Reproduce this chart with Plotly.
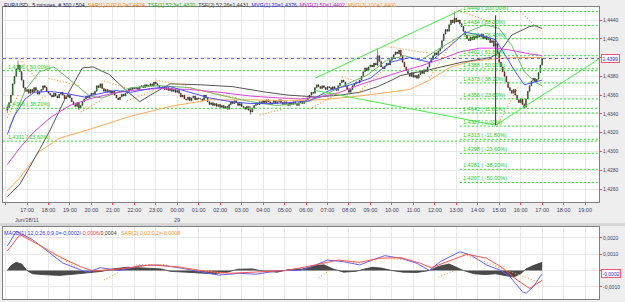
import plotly.graph_objects as go
import pandas as pd

W, H = 625, 302

def T(s):
    d, hm = s.split()
    return f"2011-06-{d} {hm}"

# ---------------- price data (5-minute closes, one row per hour) -------------
first_open = 1.4344
closes_by_hour = [
    [1.4347, 1.4352, 1.4360, 1.4372, 1.4380, 1.4388, 1.4392, 1.4385, 1.4376, 1.4368, 1.4364, 1.4366],
    [1.4362, 1.4366, 1.4363, 1.4368, 1.4365, 1.4361, 1.4364, 1.4366, 1.4370, 1.4368, 1.4364, 1.4362],
    [1.4360, 1.4358, 1.4362, 1.4359, 1.4357, 1.4361, 1.4363, 1.4360, 1.4356, 1.4358, 1.4360, 1.4357],
    [1.4353, 1.4350, 1.4348, 1.4352, 1.4346, 1.4349, 1.4353, 1.4356, 1.4359, 1.4357, 1.4360, 1.4362],
    [1.4361, 1.4364, 1.4370, 1.4368, 1.4372, 1.4367, 1.4364, 1.4366, 1.4363, 1.4365, 1.4362, 1.4364],
    [1.4360, 1.4357, 1.4355, 1.4358, 1.4361, 1.4359, 1.4362, 1.4364, 1.4367, 1.4366, 1.4368, 1.4367],
    [1.4368, 1.4366, 1.4369, 1.4370, 1.4368, 1.4371, 1.4369, 1.4370, 1.4372, 1.4370, 1.4374, 1.4372],
    [1.4370, 1.4368, 1.4367, 1.4369, 1.4366, 1.4368, 1.4365, 1.4367, 1.4364, 1.4366, 1.4363, 1.4365],
    [1.4362, 1.4358, 1.4360, 1.4356, 1.4355, 1.4358, 1.4354, 1.4357, 1.4359, 1.4355, 1.4357, 1.4356],
    [1.4356, 1.4354, 1.4360, 1.4357, 1.4353, 1.4350, 1.4352, 1.4349, 1.4351, 1.4348, 1.4350, 1.4347],
    [1.4349, 1.4346, 1.4348, 1.4345, 1.4350, 1.4353, 1.4351, 1.4354, 1.4352, 1.4349, 1.4351, 1.4348],
    [1.4347, 1.4345, 1.4348, 1.4344, 1.4342, 1.4346, 1.4349, 1.4352, 1.4350, 1.4353, 1.4351, 1.4354],
    [1.4352, 1.4355, 1.4353, 1.4350, 1.4352, 1.4354, 1.4351, 1.4353, 1.4355, 1.4352, 1.4350, 1.4353],
    [1.4351, 1.4349, 1.4352, 1.4350, 1.4353, 1.4351, 1.4349, 1.4352, 1.4354, 1.4351, 1.4353, 1.4355],
    [1.4357, 1.4360, 1.4363, 1.4362, 1.4368, 1.4371, 1.4369, 1.4367, 1.4370, 1.4368, 1.4366, 1.4369],
    [1.4368, 1.4366, 1.4369, 1.4367, 1.4365, 1.4370, 1.4373, 1.4376, 1.4374, 1.4370, 1.4366, 1.4363],
    [1.4366, 1.4370, 1.4372, 1.4374, 1.4373, 1.4376, 1.4380, 1.4385, 1.4389, 1.4386, 1.4390, 1.4392],
    [1.4390, 1.4394, 1.4392, 1.4402, 1.4396, 1.4390, 1.4388, 1.4391, 1.4394, 1.4392, 1.4397, 1.4400],
    [1.4403, 1.4406, 1.4404, 1.4408, 1.4402, 1.4395, 1.4390, 1.4386, 1.4383, 1.4380, 1.4384, 1.4379],
    [1.4381, 1.4378, 1.4382, 1.4386, 1.4383, 1.4387, 1.4385, 1.4390, 1.4395, 1.4398, 1.4402, 1.4405],
    [1.4403, 1.4407, 1.4410, 1.4418, 1.4425, 1.4430, 1.4428, 1.4435, 1.4440, 1.4437, 1.4442, 1.4438],
    [1.4440, 1.4436, 1.4433, 1.4428, 1.4424, 1.4420, 1.4418, 1.4422, 1.4419, 1.4423, 1.4421, 1.4424],
    [1.4422, 1.4425, 1.4420, 1.4423, 1.4419, 1.4421, 1.4416, 1.4418, 1.4412, 1.4415, 1.4405, 1.4395],
    [1.4390, 1.4385, 1.4380, 1.4374, 1.4368, 1.4365, 1.4362, 1.4366, 1.4360, 1.4355, 1.4352, 1.4356],
    [1.4350, 1.4347, 1.4356, 1.4364, 1.4370, 1.4375, 1.4378, 1.4374, 1.4377, 1.4384, 1.4392, 1.4399],
]
# read-off extreme wicks: bar index -> (high, low)
wick_overrides = {0: (1.4350, 1.4341), 6: (1.4397, 1.4386), 40: (1.4350, 1.4344),
                  136: (1.4348, 1.4339), 207: (1.4410, 1.4391), 250: (1.4449, 1.4436),
                  289: (1.4352, 1.4345)}

# ---------------- indicators ------------------------------------------------
mvg1_t = ["28 16:05","28 16:25","28 16:55","28 17:20","28 18:05","28 19:00","28 19:40","28 20:25","28 21:05","28 21:50","28 22:45","28 23:40","29 00:35","29 01:30","29 02:30","29 03:25","29 04:20","29 05:15","29 06:10","29 07:05","29 08:05","29 09:00","29 09:55","29 10:50","29 11:45","29 12:45","29 13:25","29 14:05","29 14:50","29 15:15","29 15:45","29 16:10","29 16:40","29 17:00"]
mvg1_v = [1.4318,1.4338,1.4356,1.4363,1.4364,1.4361,1.4358,1.4362,1.4365,1.4363,1.4367,1.4369,1.4363,1.4357,1.4353,1.4351,1.4351,1.4352,1.4354,1.4365,1.4371,1.4378,1.4395,1.4400,1.4395,1.4413,1.4427,1.4424,1.4419,1.4403,1.4385,1.4371,1.4374,1.4376]

mvg2_t = ["28 16:05","28 16:40","28 17:20","28 18:05","28 19:00","28 19:55","28 20:50","28 21:50","28 23:10","29 00:35","29 02:00","29 03:25","29 04:45","29 05:45","29 06:40","29 07:35","29 08:30","29 09:25","29 10:25","29 11:20","29 12:15","29 13:10","29 14:05","29 14:50","29 15:30","29 16:25","29 17:00"]
mvg2_v = [1.4286,1.4304,1.4321,1.4336,1.4349,1.4356,1.4361,1.4365,1.4367,1.4366,1.4363,1.4359,1.4357,1.4356,1.4358,1.4363,1.4371,1.4378,1.4385,1.4391,1.4398,1.4406,1.4410,1.4410,1.4408,1.4404,1.4402]

mvg3_t = ["28 16:05","28 16:40","28 17:35","28 18:30","28 19:50","28 21:45","28 23:40","29 01:30","29 03:25","29 05:15","29 06:40","29 08:05","29 09:30","29 10:50","29 11:45","29 12:45","29 13:40","29 15:00","29 16:00","29 17:00"]
mvg3_v = [1.4258,1.4272,1.4300,1.4314,1.4323,1.4337,1.4348,1.4355,1.4355,1.4354,1.4355,1.4358,1.4362,1.4366,1.4376,1.4390,1.4396,1.4399,1.4400,1.4400]

tsf2_t = ["28 16:05","28 16:40","28 17:35","28 18:05","28 18:45","28 19:35","28 20:05","28 20:50","28 21:40","28 22:15","28 22:45","28 23:40","29 01:05","29 02:35","29 04:10","29 05:10","29 06:30","29 07:35","29 08:30","29 09:20","29 10:00","29 10:25","29 11:45","29 13:15","29 14:35","29 15:00","29 15:35","29 16:25","29 16:40","29 17:00"]
tsf2_v = [1.4252,1.4265,1.4302,1.4323,1.4355,1.4389,1.4390,1.4382,1.4364,1.4353,1.4360,1.4372,1.4371,1.4369,1.4363,1.4360,1.4358,1.4360,1.4363,1.4369,1.4376,1.4381,1.4387,1.4395,1.4400,1.4405,1.4424,1.4433,1.4434,1.4431]

tsf1_t = ["28 16:10","28 16:25","28 16:55","28 17:35","28 18:15","28 18:45","28 19:25","28 19:55","28 20:30","28 21:05","28 21:50","28 23:10","29 00:35","29 02:00","29 03:25","29 04:35","29 05:45","29 06:40","29 07:50","29 08:50","29 09:45","29 10:35","29 11:20","29 12:15","29 13:25","29 14:20","29 15:00","29 15:35","29 16:10","29 16:40","29 17:00"]
tsf1_v = [1.4325,1.4339,1.4365,1.4385,1.4390,1.4381,1.4369,1.4359,1.4357,1.4362,1.4368,1.4370,1.4368,1.4360,1.4353,1.4349,1.4351,1.4358,1.4371,1.4381,1.4397,1.4402,1.4397,1.4410,1.4426,1.4435,1.4431,1.4413,1.4385,1.4374,1.4370]

# parabolic SAR(1) runs: start time, start value, end time, end value
sar_t0 = ["28 16:05","28 16:40","28 17:35","28 18:00","28 19:30","28 20:35","28 21:40","28 23:00","29 00:30","29 03:50","29 05:00","29 06:10","29 07:40","29 08:25","29 09:40","29 11:45","29 13:05","29 14:55","29 16:00"]
sar_v0 = [1.4336,1.4398,1.4355,1.4378,1.4342,1.4375,1.4354,1.4376,1.4368,1.4339,1.4357,1.4345,1.4379,1.4362,1.4412,1.4378,1.4450,1.4328,1.4449]
sar_t1 = ["28 16:35","28 17:30","28 17:55","28 19:25","28 20:30","28 21:35","28 22:55","29 00:25","29 02:45","29 04:55","29 06:05","29 07:35","29 08:20","29 09:35","29 11:40","29 12:55","29 14:50","29 15:55","29 17:00"]
sar_v1 = [1.4360,1.4376,1.4360,1.4370,1.4355,1.4368,1.4365,1.4370,1.4357,1.4345,1.4355,1.4363,1.4375,1.4386,1.4405,1.4420,1.4436,1.4370,1.4426]

# Fibonacci retracement (right) and older one (left)
fib_prices = [1.4449, 1.4434, 1.4420, 1.4402, 1.4388, 1.4373, 1.4356, 1.4341, 1.4327, 1.4313, 1.4298, 1.4281, 1.4267]
fib_pcts = ["100,00%", "88,20%", "76,40%", "61,80%", "50,00%", "38,20%", "23,60%", "11,80%", "0,00%", "-11,80%", "-23,60%", "-38,20%", "-50,00%"]
fib_start = "29 13:10"
fibL_prices = [1.4386, 1.4346, 1.4311]
fibL_pcts = ["50,00%", "38,20%", "23,60%"]

trend_t0 = ["29 06:25", "29 06:25", "29 14:50"]
trend_v0 = [1.4378, 1.4365, 1.4328]
trend_t1 = ["29 13:15", "29 14:50", "29 19:39"]
trend_v1 = [1.4451, 1.4328, 1.43985]
vline_t = "29 14:50"
vline_v = [1.4445, 1.4328]
last_price = 1.4399

# ---------------- MACD panel -----------------------------------------------
macd_t = ["28 16:05","28 16:30","28 17:15","28 18:00","28 18:40","28 19:30","28 19:50","28 20:25","28 21:20","28 22:15","28 23:10","29 00:05","29 01:00","29 01:55","29 02:55","29 03:40","29 04:45","29 05:40","29 06:15","29 07:00","29 07:45","29 08:30","29 09:05","29 09:40","29 10:25","29 11:10","29 11:45","29 12:15","29 13:10","29 13:40","29 14:25","29 15:05","29 15:30","29 16:05","29 16:15","29 16:35","29 17:00"]
macd_v = [0.0015,0.0024,0.0019,0.00115,0.00046,0.00003,-0.0001,0.00017,0.0,0.0003,0.00034,0.00017,-0.00007,-0.00028,-0.00017,-0.00023,0.0,0.0,0.00023,0.00064,0.00054,0.00034,0.00064,0.00091,0.00075,0.00044,0.0,0.00054,0.00115,0.00095,0.00034,0.0,-0.00038,-0.0013,-0.0014,-0.0010,-0.0002]
sig_t = ["28 16:05","28 16:40","28 17:35","28 18:30","28 19:30","28 20:05","28 21:20","28 22:45","29 00:00","29 01:25","29 02:30","29 03:50","29 05:05","29 06:35","29 07:30","29 08:30","29 09:25","29 10:25","29 11:20","29 11:50","29 12:35","29 13:30","29 14:25","29 15:05","29 15:50","29 16:25","29 17:00"]
sig_v = [0.0012,0.0022,0.00156,0.00085,0.00023,-0.00003,0.0001,0.00034,0.00023,-0.00007,-0.00017,-0.00007,0.0,0.00038,0.00064,0.0005,0.00075,0.00079,0.00044,0.00017,0.00054,0.0010,0.00075,0.00023,-0.00058,-0.0011,-0.0006]
hist_t = ["28 16:05","28 16:15","28 16:30","28 16:45","28 17:00","28 17:15","28 17:45","28 18:30","28 19:15","28 20:00","28 20:30","28 21:00","28 21:40","28 22:30","28 23:15","28 23:40","29 00:30","29 01:00","29 01:40","29 02:20","29 02:50","29 03:30","29 04:00","29 04:40","29 05:10","29 05:50","29 06:30","29 06:50","29 07:15","29 07:45","29 08:20","29 08:45","29 09:05","29 09:30","29 10:00","29 10:30","29 11:10","29 11:45","29 12:10","29 12:40","29 13:00","29 13:20","29 13:50","29 14:20","29 14:50","29 15:15","29 15:40","29 16:00","29 16:15","29 16:35","29 17:00"]
hist_v = [0.0,0.0003,0.0005,0.0004,0.0,-0.0002,-0.00025,-0.0003,-0.00022,-0.0001,-0.00005,0.0001,0.0002,0.00015,0.0001,-0.00005,-0.0001,-0.00015,-0.0002,-0.0001,0.00008,0.0001,-0.00005,-0.0001,0.00005,0.0001,0.0003,0.00035,0.0001,-0.0001,-0.00005,0.0001,0.0002,0.00015,0.0,-0.0001,-0.00012,0.0,0.00025,0.0004,0.0002,0.0,-0.0002,-0.00025,-0.0002,-0.0003,-0.0004,-0.0002,0.0001,0.0003,0.0005]
sar2_t0 = ["28 16:40","28 20:35","28 22:05","28 23:55","29 06:35","29 07:30","29 09:25","29 12:10","29 13:15","29 16:05"]
sar2_v0 = [0.00228,-0.00058,0.00034,0.00023,-0.00044,0.00064,0.00075,-0.0004,0.00105,-0.00035]
sar2_t1 = ["28 19:30","28 21:20","28 23:30","29 02:10","29 07:10","29 08:30","29 10:55","29 12:55","29 16:00","29 17:00"]
sar2_v1 = [0.00003,-0.00007,0.00037,-0.00017,0.00006,0.00044,0.00064,0.0,-0.0003,-0.0008]

y_ticks = [1.4260, 1.4280, 1.4300, 1.4320, 1.4340, 1.4360, 1.4380, 1.4400, 1.4420, 1.4440]
m_ticks = [-0.0010, 0.0, 0.0010, 0.0020]

# ---------------- build ----------------------------------------------------
times = pd.date_range("2011-06-28 16:05", periods=300, freq="5min")
closes = [c for row in closes_by_hour for c in row]
opens = [first_open] + closes[:-1]
highs = [max(o, c) for o, c in zip(opens, closes)]
lows = [min(o, c) for o, c in zip(opens, closes)]
for i, (hh, ll) in wick_overrides.items():
    highs[i] = max(highs[i], hh)
    lows[i] = min(lows[i], ll)

FONT = "Liberation Sans, Arial, sans-serif"
fig = go.Figure()

def line(tl, vl, color, width=1, dash=None, xa="x", ya="y"):
    fig.add_trace(go.Scatter(x=[T(t) for t in tl], y=vl, mode="lines", xaxis=xa, yaxis=ya,
                             line=dict(color=color, width=width, dash=dash),
                             hoverinfo="skip", showlegend=False))

def segs(t0, v0, t1, v1, color, width=1, dash=None, xa="x", ya="y"):
    xs, ys = [], []
    for a, b, c, d in zip(t0, v0, t1, v1):
        xs += [T(a), T(c), None]
        ys += [b, d, None]
    fig.add_trace(go.Scatter(x=xs, y=ys, mode="lines", xaxis=xa, yaxis=ya,
                             line=dict(color=color, width=width, dash=dash),
                             hoverinfo="skip", showlegend=False))

x_left = "2011-06-28 15:52:54"
x_right = "2011-06-29 19:39"

# fib lines
fx, fy = [], []
for p in fib_prices:
    fx += [T(fib_start), x_right, None]
    fy += [p, p, None]
for p in fibL_prices:
    fx += [x_left, x_right, None]
    fy += [p, p, None]
fig.add_trace(go.Scatter(x=fx, y=fy, mode="lines", line=dict(color="#33dd33", width=1, dash="2px,2px"),
                         hoverinfo="skip", showlegend=False))

line(mvg3_t, mvg3_v, "#ffaa55", 1)
line(tsf2_t, tsf2_v, "#555555", 1)
line(tsf1_t, tsf1_v, "#66bb66", 1)
line(mvg2_t, mvg2_v, "#e040e0", 1)
line(mvg1_t, mvg1_v, "#5050ff", 1)
segs(trend_t0, trend_v0, trend_t1, trend_v1, "#44ee44", 1)
line([vline_t, vline_t], vline_v, "#303030", 1)

fig.add_trace(go.Candlestick(
    x=times, open=opens, high=highs, low=lows, close=closes,
    increasing=dict(line=dict(color="#1a1a1a", width=0.5), fillcolor="#10b010"),
    decreasing=dict(line=dict(color="#1a1a1a", width=0.5), fillcolor="#e01010"),
    whiskerwidth=0, hoverinfo="skip", showlegend=False))

segs(sar_t0, sar_v0, sar_t1, sar_v1, "#ff8c1a", 1.1, "1px,2px")

# MACD panel
fig.add_trace(go.Scatter(x=[T(t) for t in hist_t], y=hist_v, mode="lines", xaxis="x2", yaxis="y2",
                         fill="tozeroy", fillcolor="#4a4a4a", line=dict(color="#3a3a3a", width=0.8),
                         hoverinfo="skip", showlegend=False))
line(macd_t, macd_v, "#6060ff", 1, None, "x2", "y2")
line(sig_t, sig_v, "#ff5050", 1, None, "x2", "y2")
segs(sar2_t0, sar2_v0, sar2_t1, sar2_v1, "#ff9933", 1.1, "1px,2px", "x2", "y2")

def fmt(v, nd=4):
    return f"{v:.{nd}f}".replace(".", ",")

ann = []
for p, pc in zip(fib_prices, fib_pcts):
    ann.append(dict(x=T("29 13:12"), y=p, xref="x", yref="y", xanchor="left", yanchor="bottom",
                    text=f"{fmt(p)} ( {pc})", showarrow=False, yshift=-1,
                    font=dict(size=5.5, color="#22cc22", family=FONT)))
for p, pc in zip(fibL_prices, fibL_pcts):
    ann.append(dict(x=T("28 16:00"), y=p, xref="x", yref="y", xanchor="left", yanchor="bottom",
                    text=f"{fmt(p)} ( {pc})", showarrow=False, yshift=-1,
                    font=dict(size=5.5, color="#22cc22", family=FONT)))

title = ("<span style='color:#202060'>EUR/USD , 5 minutes, # 300 / 504, </span>"
         "<span style='color:#ff8000'>SAR(1) 0,02;0,2=1,4424, </span>"
         "<span style='color:#20b020'>TSF(1) 52;3=1,4370, </span>"
         "<span style='color:#404040'>TSF(2) 52;26=1,4431, </span>"
         "<span style='color:#3030ff'>MVG(1) 20=1,4376, </span>"
         "<span style='color:#d020d0'>MVG(2) 50=1,4402, </span>"
         "<span style='color:#ffa040'>MVG(3) 100=1,4400</span>")
ann.append(dict(x=2 / W, y=1 - 0.5 / H, xref="paper", yref="paper", xanchor="left", yanchor="top",
                text=title, showarrow=False, font=dict(size=5.3, family=FONT)))
mtitle = ("<span style='color:#3030ff'>MACD(1) 12,0;26,0;9,0=-0,0002/</span>"
          "<span style='color:#ff4040'>-0,0006/</span>"
          "<span style='color:#404040'>0,0004 , </span>"
          "<span style='color:#ff8c1a'>SAR(2) 0,02;0,2=-0,0008</span>")
ann.append(dict(x=2 / W, y=1 - 227.5 / H, xref="paper", yref="paper", xanchor="left", yanchor="top",
                text=mtitle, showarrow=False, font=dict(size=5.3, family=FONT)))
ann.append(dict(x=T("28 17:00"), y=1 - 219.5 / H, xref="x", yref="paper", text="Jun/28/11",
                yanchor="middle", showarrow=False, font=dict(size=5.5, color="#404060", family=FONT)))
ann.append(dict(x=T("29 00:00"), y=1 - 219.5 / H, xref="x", yref="paper", text="29",
                yanchor="middle", showarrow=False, font=dict(size=5.5, color="#404060", family=FONT)))
ann.append(dict(x=600.5 / W, y=last_price, xref="paper", yref="y", xanchor="left", text=fmt(last_price),
                showarrow=False, bgcolor="white", bordercolor="#ff5070", borderwidth=1, borderpad=0.5,
                font=dict(size=5, color="#2020c0", family=FONT)))
ann.append(dict(x=600.5 / W, y=-0.0002, xref="paper", yref="y2", xanchor="left", text="-0,0002",
                showarrow=False, bgcolor="white", bordercolor="#ff5070", borderwidth=1, borderpad=0.5,
                font=dict(size=5, color="#2020c0", family=FONT)))

shapes = [
    dict(type="line", xref="paper", yref="y", x0=3 / W, x1=599 / W, y0=last_price, y1=last_price,
         line=dict(color="#4040ff", width=0.8, dash="3px,3px")),
    dict(type="rect", xref="paper", yref="paper", x0=0, x1=1, y0=1 - 226 / H, y1=1 - 223 / H,
         fillcolor="#d6d6d6", line=dict(width=0), layer="below"),
]

xdom = [3 / W, 599 / W]
axis_common = dict(showline=True, linecolor="#808080", linewidth=1, mirror=True,
                   gridcolor="#e8e8e8", gridwidth=1, zeroline=False, fixedrange=True)
fig.update_layout(
    width=W, height=H, margin=dict(l=0, r=0, t=0, b=0),
    paper_bgcolor="#eeeeee", plot_bgcolor="white", separators=",.",
    showlegend=False, annotations=ann, shapes=shapes,
    font=dict(family=FONT, size=6, color="#404060"),
    xaxis=dict(domain=xdom, anchor="y", type="date", range=[x_left, x_right],
               tick0="2011-06-28 00:00", dtick=3600000, tickformat="%H:%M",
               ticks="outside", ticklen=2, tickcolor="#ff4040",
               tickfont=dict(size=5.5, color="#404060"), showgrid=True,
               rangeslider=dict(visible=False), **axis_common),
    yaxis=dict(domain=[1 - 202 / H, 1 - 7 / H], anchor="x", side="right",
               range=[1.424617, 1.445385], tickvals=y_ticks,
               ticktext=[fmt(v) if abs(v - 1.44) > 1e-9 else "" for v in y_ticks],
               ticks="outside", ticklen=2, tickcolor="#ff4040",
               tickfont=dict(size=5, color="#404060"), showgrid=True, **axis_common),
    xaxis2=dict(domain=xdom, anchor="y2", type="date", range=[x_left, x_right],
                tick0="2011-06-28 00:00", dtick=3600000, showticklabels=False, ticks="",
                showgrid=True, **axis_common),
    yaxis2=dict(domain=[1 - 299 / H, 1 - 227 / H], anchor="x2", side="right",
                range=[-0.001748, 0.002669], tickvals=m_ticks,
                ticktext=[fmt(v) if v != 0 else "" for v in m_ticks],
                ticks="outside", ticklen=2, tickcolor="#ff4040",
                tickfont=dict(size=5, color="#404060"), showgrid=True, **axis_common),
)

fig.write_html("out.html")
